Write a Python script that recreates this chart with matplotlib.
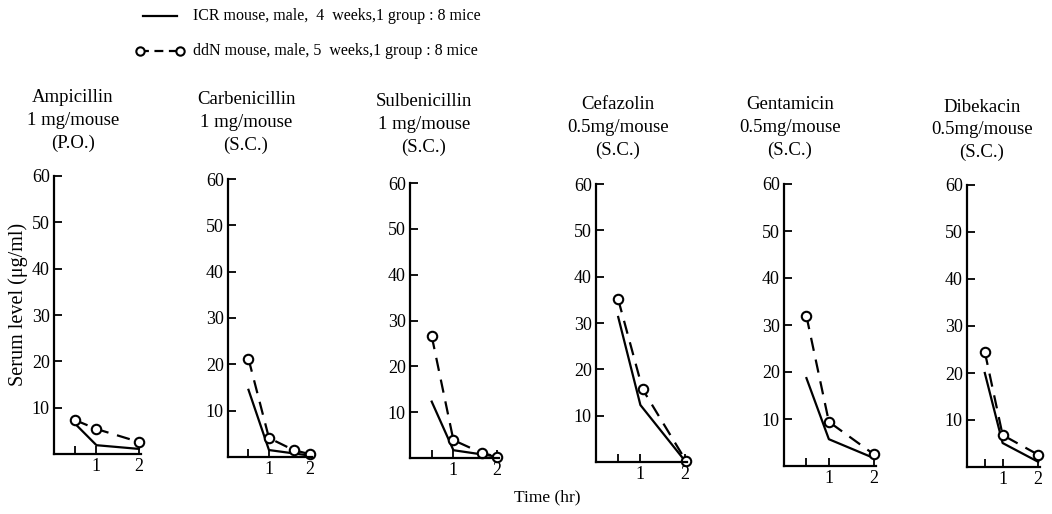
import matplotlib
matplotlib.use("Agg")
import matplotlib.pyplot as plt
from matplotlib.lines import Line2D

plt.rcParams['font.family'] = ['Liberation Serif', 'DejaVu Serif']

W, H = 1052, 514

# drugs and dosing (title lines)
drugs = ["Ampicillin", "Carbenicillin", "Sulbenicillin", "Cefazolin", "Gentamicin", "Dibekacin"]
doses = ["1 mg/mouse", "1 mg/mouse", "1 mg/mouse", "0.5mg/mouse", "0.5mg/mouse", "0.5mg/mouse"]
routes = ["(P.O.)", "(S.C.)", "(S.C.)", "(S.C.)", "(S.C.)", "(S.C.)"]

# ICR mouse (solid line)
icr_t = [[0.5, 1, 2], [0.5, 1, 2], [0.5, 1, 2], [0.5, 1, 2], [0.5, 1, 2], [0.5, 1, 2]]
icr_y = [[6.5, 1.9, 1.1], [14.5, 1.5, 0.3], [12.3, 1.7, 0.3],
         [31.3, 12.3, 0.3], [18.7, 5.7, 1.7], [20.0, 5.1, 1.1]]

# ddN mouse (dashed line, open circles)
ddn_t = [[0.5, 1, 2], [0.5, 1, 1.6, 2], [0.5, 1, 1.65, 2], [0.5, 1.05, 2.03], [0.5, 1, 2], [0.5, 1, 2]]
ddn_y = [[7.3, 5.4, 2.6], [21.2, 4.1, 1.5, 0.6], [26.6, 3.9, 1.1, 0.3],
         [35.1, 15.7, 0.2], [31.9, 9.4, 2.5], [24.5, 6.8, 2.6]]

# panel geometry in pixels: y-axis x, right end, baseline y, top (60) y
panels = [(54, 141, 454, 176), (228, 312, 457, 179), (410, 499, 458, 183),
          (596, 687, 462, 184), (784, 876, 466, 184), (967, 1040, 467, 185)]
title_x = [73, 246, 424, 618, 790, 982]
title_y = [98, 100, 102, 105, 105, 107]

fig = plt.figure(figsize=(W / 100, H / 100), dpi=100)

for i in range(6):
    l, r, b, t = panels[i]
    ax = fig.add_axes([l / W, 1 - b / H, (r - l) / W, (b - t) / H])
    ax.plot(icr_t[i], icr_y[i], '-', color='black', lw=1.6, clip_on=False)
    ax.plot(ddn_t[i], ddn_y[i], '--', color='black', lw=1.6, dashes=(6, 4),
            marker='o', ms=6.8, mfc='white', mec='black', mew=1.5, clip_on=False)
    ax.set_xlim(0, 2.05)
    ax.set_ylim(0, 60)
    ax.set_yticks([10, 20, 30, 40, 50, 60])
    ax.set_xticks([0.5, 1, 2])
    ax.set_xticklabels(['', '1', '2'])
    ax.tick_params(direction='in', length=6, width=1.3, labelsize=13, pad=3)
    ax.spines['top'].set_visible(False)
    ax.spines['right'].set_visible(False)
    ax.spines['left'].set_linewidth(1.6)
    ax.spines['bottom'].set_linewidth(1.6)
    ax.patch.set_alpha(0)

    tx = title_x[i] / W
    ty = 1 - title_y[i] / H
    fig.text(tx, ty, drugs[i], ha='center', va='center', fontsize=13.5)
    fig.text(tx, ty - 23 / H, doses[i], ha='center', va='center', fontsize=13.5)
    fig.text(tx, ty - 45 / H, routes[i], ha='center', va='center', fontsize=13.5)

# legend at the top
fig.add_artist(Line2D([143 / W, 177 / W], [1 - 16 / H, 1 - 16 / H], color='black', lw=1.6))
fig.add_artist(Line2D([140 / W, 180 / W], [1 - 51 / H, 1 - 51 / H], color='black', lw=1.6,
                      ls='--', dashes=(4, 2.5), marker='o', ms=6, mfc='white', mec='black', mew=1.5))
fig.text(193 / W, 1 - 16 / H, "ICR mouse, male,  4  weeks,1 group : 8 mice", ha='left', va='center', fontsize=11.5)
fig.text(193 / W, 1 - 51 / H, "ddN mouse, male, 5  weeks,1 group : 8 mice", ha='left', va='center', fontsize=11.5)

fig.text(18 / W, 1 - 304 / H, "Serum level (\u03bcg/ml)", rotation=90, ha='center', va='center', fontsize=14.5)
fig.text(547 / W, 1 - 497 / H, "Time (hr)", ha='center', va='center', fontsize=12.5)

fig.savefig("out.png", dpi=100)
